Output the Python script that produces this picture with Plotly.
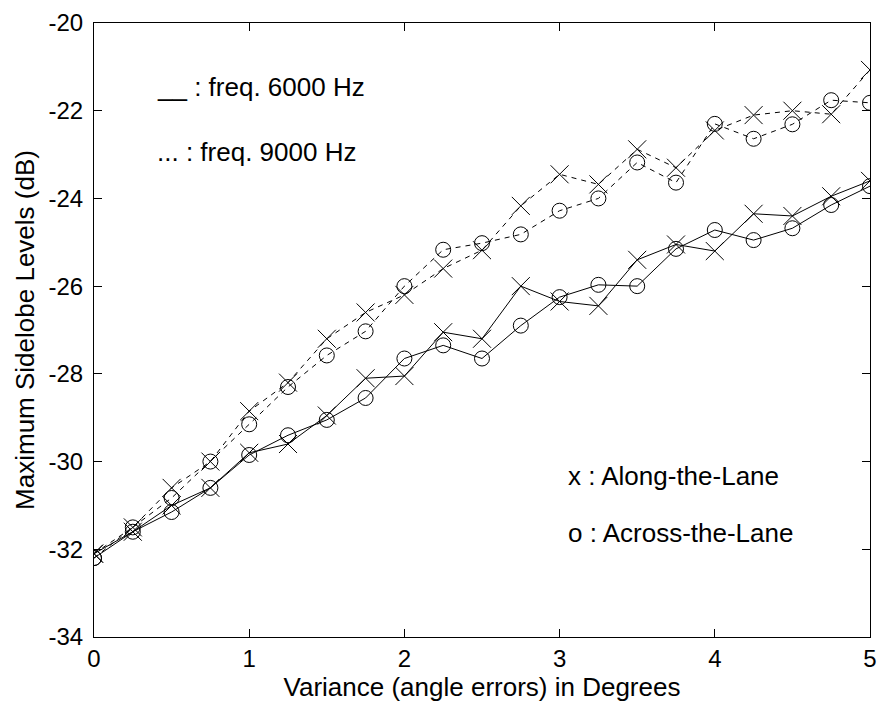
import plotly.graph_objects as go

variance = [0, 0.25, 0.5, 0.75, 1.0, 1.25, 1.5, 1.75, 2.0, 2.25, 2.5,
            2.75, 3.0, 3.25, 3.5, 3.75, 4.0, 4.25, 4.5, 4.75, 5.0]

# 6000 Hz (solid)
along_6000 = [-32.1, -31.6, -31.0, -30.6, -29.8, -29.6, -28.95, -28.1, -28.05, -27.05, -27.2,
              -26.0, -26.35, -26.45, -25.4, -25.05, -25.2, -24.35, -24.4, -23.95, -23.6]
across_6000 = [-32.2, -31.6, -31.15, -30.6, -29.85, -29.4, -29.05, -28.55, -27.65, -27.35, -27.65,
               -26.9, -26.25, -25.97, -26.0, -25.15, -24.72, -24.95, -24.68, -24.15, -23.72]

# 9000 Hz (dashed)
along_9000 = [-32.1, -31.5, -30.6, -30.0, -28.85, -28.2, -27.2, -26.6, -26.2, -25.6, -25.18,
              -24.17, -23.45, -23.68, -22.88, -23.3, -22.45, -22.1, -22.0, -22.08, -21.07]
across_9000 = [-32.2, -31.5, -30.83, -30.0, -29.15, -28.3, -27.58, -27.03, -26.0, -25.17, -25.02,
               -24.82, -24.28, -24.0, -23.18, -23.64, -22.3, -22.64, -22.31, -21.76, -21.82]

x_ticks = [0, 1, 2, 3, 4, 5]
y_ticks = [-34, -32, -30, -28, -26, -24, -22, -20]

FONT = "Liberation Sans"

fig = go.Figure()

def add(y, dash, symbol, size):
    fig.add_trace(go.Scatter(
        x=variance, y=y, mode="lines+markers",
        line=dict(color="black", width=1, dash=dash),
        marker=dict(symbol=symbol, size=size, color="black",
                    line=dict(color="black", width=1)),
        showlegend=False))

add(along_6000, "solid", "x-thin", 18)
add(across_6000, "solid", "circle-open", 15)
add(along_9000, "5px,5px", "x-thin", 18)
add(across_9000, "5px,5px", "circle-open", 15)

notes = [
    (0.395, -21.45, "__ : freq. 6000 Hz"),
    (0.395, -22.94, "... : freq. 9000 Hz"),
    (3.04, -30.34, "x : Along-the-Lane"),
    (3.04, -31.63, "o : Across-the-Lane"),
]
for nx, ny, txt in notes:
    fig.add_annotation(x=nx, y=ny, text=txt, showarrow=False, xanchor="left",
                       yanchor="middle", font=dict(family=FONT, size=26, color="black"))

axis_style = dict(showgrid=False, zeroline=False, showline=True, linecolor="black",
                  linewidth=1, mirror="ticks", ticks="inside", ticklen=8,
                  tickcolor="black", tickfont=dict(family=FONT, size=24, color="black"))

fig.update_xaxes(range=[0, 5], tickvals=x_ticks, ticktext=[str(v) for v in x_ticks],
                 title=dict(text="Variance (angle errors) in Degrees",
                            font=dict(family=FONT, size=26, color="black"), standoff=5),
                 **axis_style)
fig.update_yaxes(range=[-34, -20], tickvals=y_ticks, ticktext=[str(v) for v in y_ticks],
                 ticklabelstandoff=5,
                 title=dict(text="Maximum Sidelobe Levels (dB)",
                            font=dict(family=FONT, size=26, color="black"), standoff=6),
                 **axis_style)

fig.update_layout(width=886, height=715, plot_bgcolor="white", paper_bgcolor="white",
                  margin=dict(l=94, r=9, t=18, b=78))

fig.write_html("out.html", config={"displayModeBar": False},
               post_script="document.body.style.margin='0px';")
